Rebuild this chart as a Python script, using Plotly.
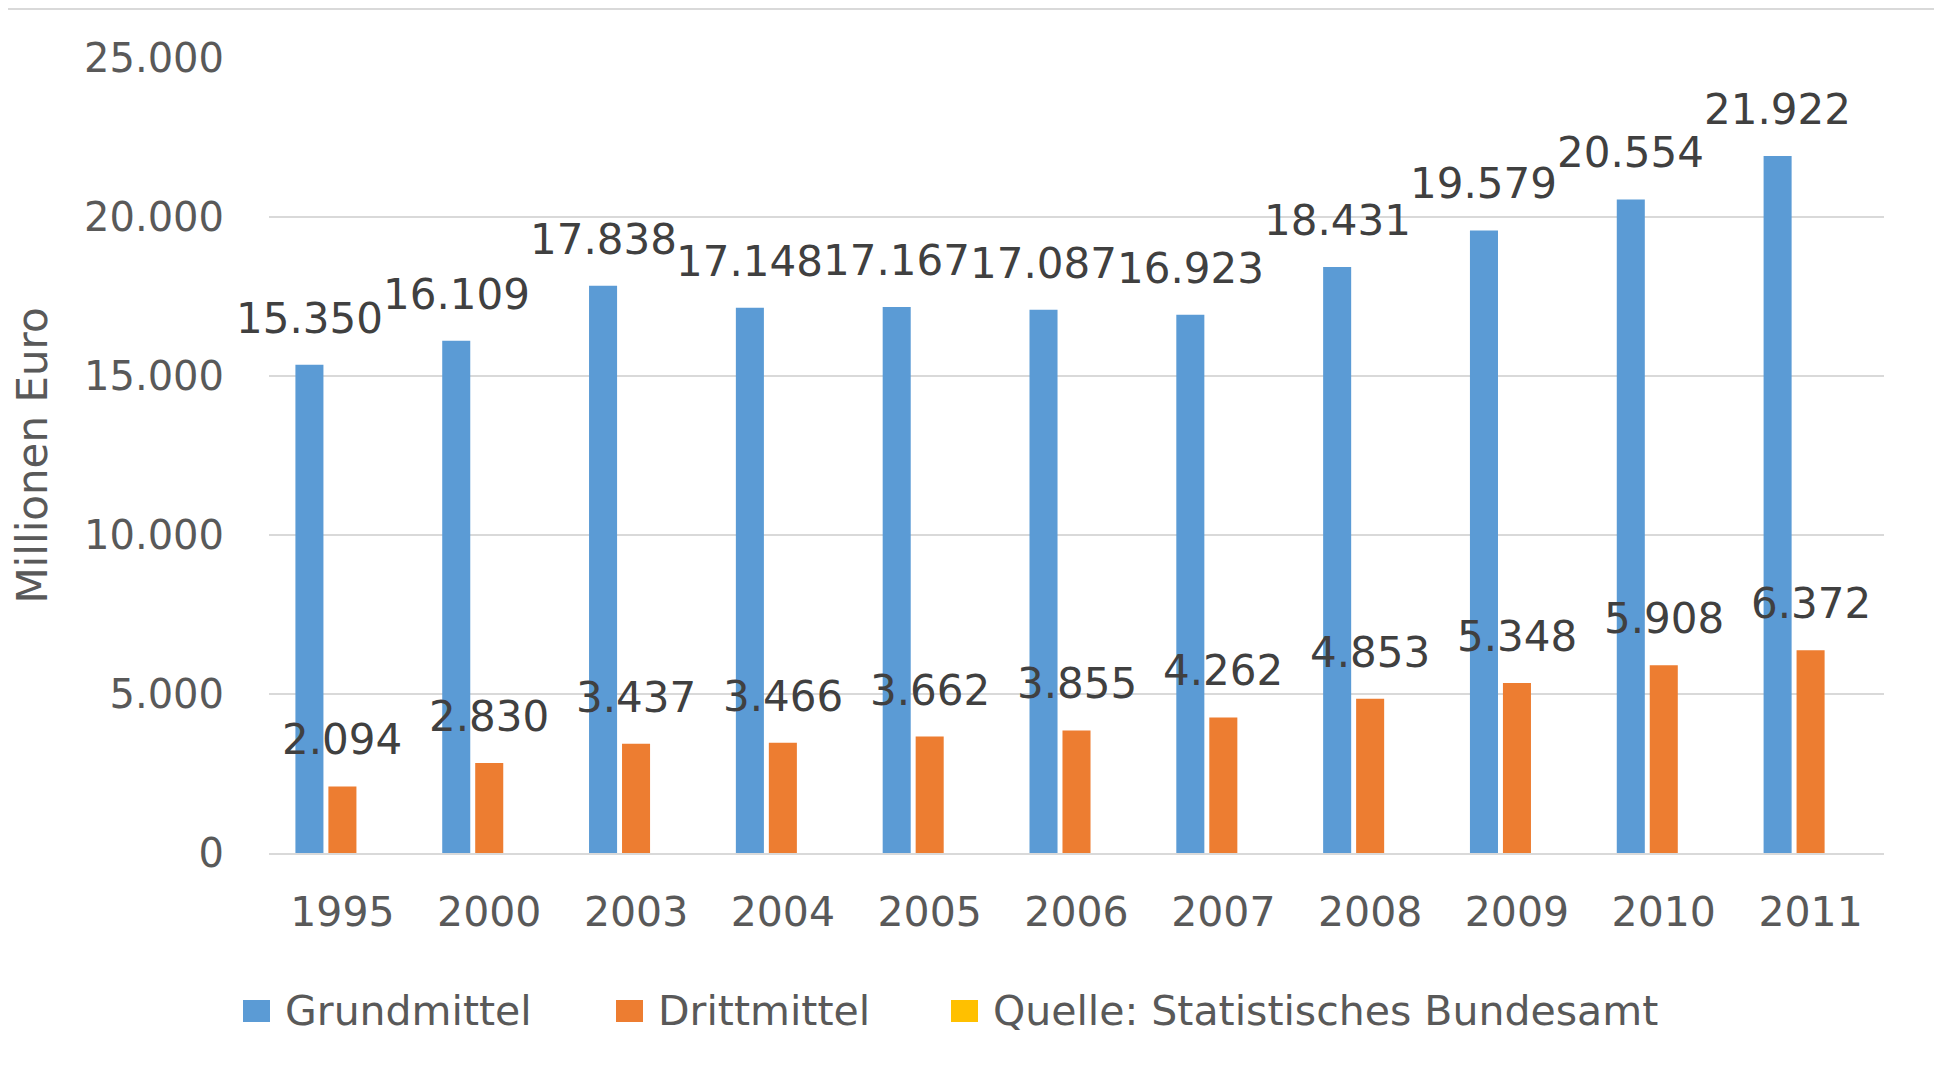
import plotly.graph_objects as go

"""Grundmittel und Drittmittel der Hochschulen, 1995-2011"""

years = ["1995", "2000", "2003", "2004", "2005", "2006", "2007", "2008", "2009", "2010", "2011"]
grundmittel = [15350, 16109, 17838, 17148, 17167, 17087, 16923, 18431, 19579, 20554, 21922]
drittmittel = [2094, 2830, 3437, 3466, 3662, 3855, 4262, 4853, 5348, 5908, 6372]
quelle = [0, 0, 0, 0, 0, 0, 0, 0, 0, 0, 0]

series_names = ["Grundmittel", "Drittmittel", "Quelle: Statistisches Bundesamt"]
series_colors = ["#5B9BD5", "#ED7D31", "#FFC000"]

# the page body has an 8px margin, so work in page pixels and subtract it
OFF = 8
W, H = 1942 - OFF, 1081 - OFF
LEFT, RIGHT, TOP, BOTTOM = 269 - OFF, 58, 58 - OFF, 228
FONT = "DejaVu Sans"
TEXT_GREY = "#595959"
GRID_GREY = "#D9D9D9"


def paper_x(px):
    return (px - OFF - LEFT) / (W - LEFT - RIGHT)


def paper_y(py):
    return (H - BOTTOM - (py - OFF)) / (H - TOP - BOTTOM)


def fmt(v):
    return f"{v:,}".replace(",", ".")


fig = go.Figure()
for name, values, color in zip(series_names, [grundmittel, drittmittel, quelle], series_colors):
    fig.add_trace(go.Bar(x=years, y=values, name=name, marker_color=color,
                         marker_line_width=0, showlegend=False))

# data labels, sitting a bit above each bar (Excel style)
# x is the category index, shifted to the bar inside its group
for values, shift in [(grundmittel, -33), (drittmittel, 0)]:
    for i, v in enumerate(values):
        fig.add_annotation(x=i, y=v, text=fmt(v), showarrow=False,
                           xshift=shift, yshift=20, yanchor="bottom",
                           font=dict(family=FONT, size=42, color="#404040"))

# legend drawn by hand so the swatches can be as large as in the original
legend_x = [243, 616, 951]
for name, color, x0 in zip(series_names, series_colors, legend_x):
    fig.add_shape(type="rect", xref="paper", yref="paper",
                  x0=paper_x(x0), x1=paper_x(x0 + 27),
                  y0=paper_y(1000), y1=paper_y(1022),
                  fillcolor=color, line_width=0)
    fig.add_annotation(xref="paper", yref="paper", x=paper_x(x0 + 40), y=paper_y(1011),
                       text=name, showarrow=False, xanchor="left", yanchor="middle",
                       font=dict(family=FONT, size=41, color=TEXT_GREY))

# thin frame line along the top of the picture
fig.add_shape(type="line", xref="paper", yref="paper",
              x0=paper_x(OFF), x1=paper_x(1942), y0=paper_y(OFF + 1), y1=paper_y(OFF + 1),
              line=dict(color=GRID_GREY, width=2))

fig.update_layout(
    width=W,
    height=H,
    margin=dict(l=LEFT, r=RIGHT, t=TOP, b=BOTTOM),
    barmode="group",
    bargap=0.326,
    bargroupgap=0.15,
    plot_bgcolor="white",
    paper_bgcolor="white",
    separators=",.",
    font=dict(family=FONT, size=40, color=TEXT_GREY),
)
fig.update_xaxes(
    type="category",
    range=[-0.5, len(years) - 0.5],
    showgrid=False,
    showline=True,
    linecolor=GRID_GREY,
    linewidth=2,
    ticks="",
    ticklabelstandoff=22,
    tickfont=dict(family=FONT, size=41, color=TEXT_GREY),
)
fig.update_yaxes(
    range=[0, 25000],
    dtick=5000,
    tickformat=",d",
    showgrid=True,
    gridcolor=GRID_GREY,
    gridwidth=2,
    zeroline=False,
    showline=False,
    ticklabelstandoff=44,
    tickfont=dict(family=FONT, size=40, color=TEXT_GREY),
    title=dict(text="Millionen Euro", standoff=24,
               font=dict(family=FONT, size=42, color=TEXT_GREY)),
)

fig.write_html("out.html")
